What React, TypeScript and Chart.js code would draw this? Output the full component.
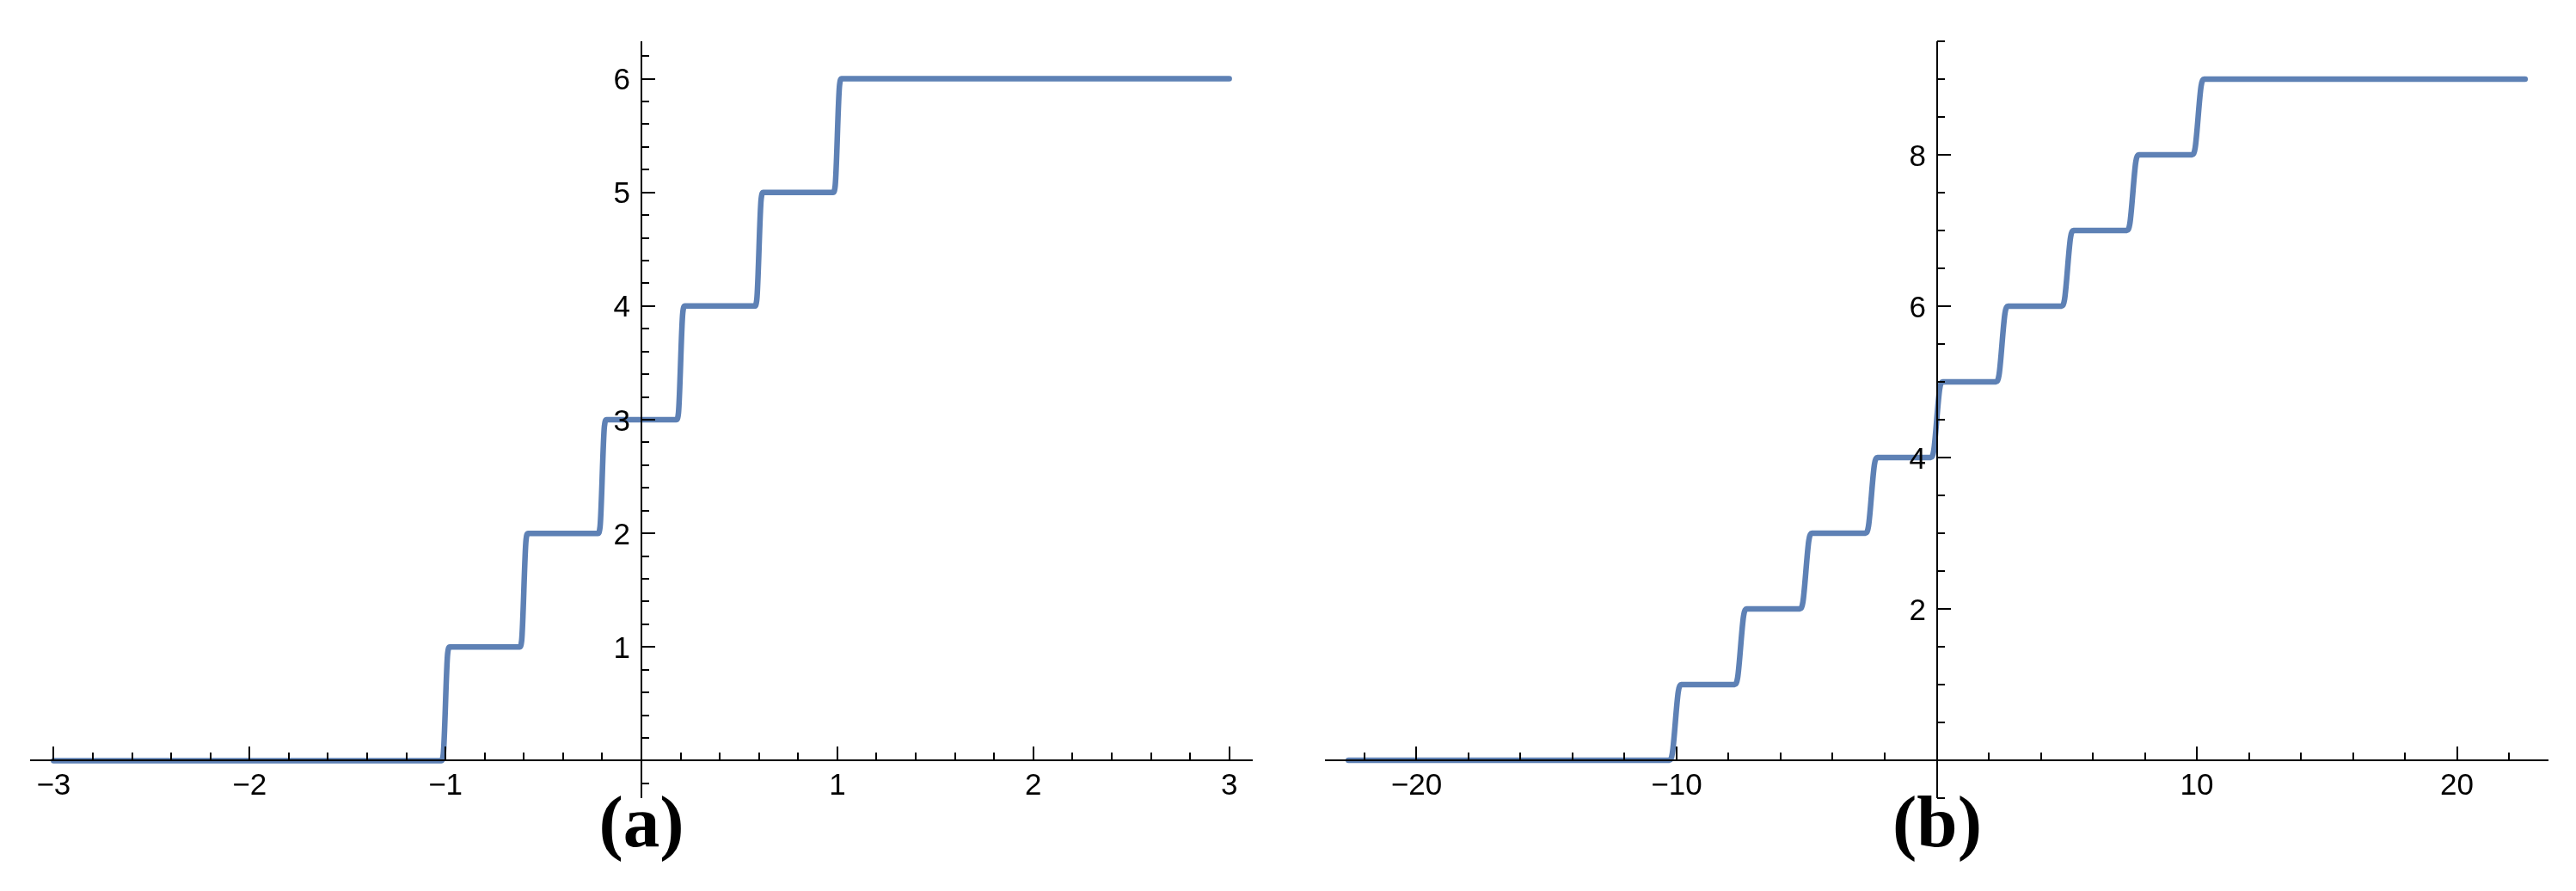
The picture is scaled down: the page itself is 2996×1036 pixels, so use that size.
import React, { useEffect, useRef } from "react";
import { Chart, registerables } from "chart.js";

Chart.register(...registerables);

// ---------- Panel (a) data ----------
const A_X = [
  -3,
  -1.022, -1.011, -0.989, -0.978,
  -0.622, -0.611, -0.589, -0.578,
  -0.222, -0.211, -0.189, -0.178,
  0.178, 0.189, 0.211, 0.222,
  0.578, 0.589, 0.611, 0.622,
  0.978, 0.989, 1.011, 1.022,
  3,
];
const A_Y = [
  0,
  0, 0.06, 0.94, 1,
  1, 1.06, 1.94, 2,
  2, 2.06, 2.94, 3,
  3, 3.06, 3.94, 4,
  4, 4.06, 4.94, 5,
  5, 5.06, 5.94, 6,
  6,
];
const A_X_TICKS = [-3, -2, -1, 1, 2, 3];
const A_X_LABELS = ["−3", "−2", "−1", "1", "2", "3"];
const A_Y_TICKS = [1, 2, 3, 4, 5, 6];
const A_Y_LABELS = ["1", "2", "3", "4", "5", "6"];
const A_CAPTION = "(a)";

// ---------- Panel (b) data ----------
const B_X = [
  -22.62,
  -10.28, -10.165, -9.935, -9.82,
  -7.77, -7.655, -7.425, -7.31,
  -5.26, -5.145, -4.915, -4.8,
  -2.74, -2.625, -2.395, -2.28,
  -0.23, -0.115, 0.115, 0.23,
  2.28, 2.395, 2.625, 2.74,
  4.8, 4.915, 5.145, 5.26,
  7.31, 7.425, 7.655, 7.77,
  9.82, 9.935, 10.165, 10.28,
  22.62,
];
const B_Y = [
  0,
  0, 0.09, 0.91, 1,
  1, 1.09, 1.91, 2,
  2, 2.09, 2.91, 3,
  3, 3.09, 3.91, 4,
  4, 4.09, 4.91, 5,
  5, 5.09, 5.91, 6,
  6, 6.09, 6.91, 7,
  7, 7.09, 7.91, 8,
  8, 8.09, 8.91, 9,
  9,
];
const B_X_TICKS = [-20, -10, 10, 20];
const B_X_LABELS = ["−20", "−10", "10", "20"];
const B_Y_TICKS = [2, 4, 6, 8];
const B_Y_LABELS = ["2", "4", "6", "8"];
const B_CAPTION = "(b)";

const LINE_COLOR = "#5E81B5";
const TICK_FONT = '35px "Liberation Sans", Arial, sans-serif';
const CAPTION_FONT = 'bold 85px "Liberation Serif", "Times New Roman", serif';

type PanelProps = {
  left: number;
  xs: number[];
  ys: number[];
  xRange: [number, number];
  yRange: [number, number];
  xTicks: number[];
  xLabels: string[];
  yTicks: number[];
  yLabels: string[];
  xMinorStep: number;
  yMinorStep: number;
  caption: string;
  padding: { left: number; right: number; top: number; bottom: number };
};

function minorValues(min: number, max: number, step: number): number[] {
  const out: number[] = [];
  const k0 = Math.ceil(min / step - 1e-9);
  const k1 = Math.floor(max / step + 1e-9);
  for (let k = k0; k <= k1; k++) {
    if (k === 0) continue;
    out.push(+(k * step).toFixed(6));
  }
  return out;
}

function Panel(props: PanelProps) {
  const ref = useRef<HTMLCanvasElement | null>(null);

  useEffect(() => {
    const canvas = ref.current;
    if (!canvas) return;

    const axesPlugin = {
      id: "mmaAxes",
      afterDatasetsDraw(chart: any) {
        const ctx = chart.ctx as CanvasRenderingContext2D;
        const xs = chart.scales.x;
        const ys = chart.scales.y;
        const area = chart.chartArea;
        const x0 = Math.round(xs.getPixelForValue(0));
        const y0 = Math.round(ys.getPixelForValue(0));
        const MAJOR = 16;
        const MINOR = 9;
        ctx.save();
        ctx.strokeStyle = "#000";
        ctx.fillStyle = "#000";
        ctx.lineWidth = 2;
        ctx.lineCap = "butt";

        // axis lines
        ctx.beginPath();
        ctx.moveTo(area.left, y0);
        ctx.lineTo(area.right, y0);
        ctx.moveTo(x0, area.top);
        ctx.lineTo(x0, area.bottom);
        ctx.stroke();

        // x ticks (pointing up)
        const isMajor = (v: number, arr: number[]) => arr.some((m) => Math.abs(m - v) < 1e-6);
        ctx.beginPath();
        for (const v of minorValues(props.xRange[0], props.xRange[1], props.xMinorStep)) {
          const px = Math.round(xs.getPixelForValue(v));
          const len = isMajor(v, props.xTicks) ? MAJOR : MINOR;
          ctx.moveTo(px, y0);
          ctx.lineTo(px, y0 - len);
        }
        // y ticks (pointing right)
        for (const v of minorValues(props.yRange[0], props.yRange[1], props.yMinorStep)) {
          const py = Math.round(ys.getPixelForValue(v));
          const len = isMajor(v, props.yTicks) ? MAJOR : MINOR;
          ctx.moveTo(x0, py);
          ctx.lineTo(x0 + len, py);
        }
        ctx.stroke();

        // tick labels
        ctx.font = TICK_FONT;
        ctx.textAlign = "center";
        ctx.textBaseline = "alphabetic";
        props.xTicks.forEach((v, i) => {
          const px = xs.getPixelForValue(v);
          ctx.fillText(props.xLabels[i], px, y0 + 40);
        });
        ctx.textAlign = "right";
        props.yTicks.forEach((v, i) => {
          const py = ys.getPixelForValue(v);
          ctx.fillText(props.yLabels[i], x0 - 13, py + 12.5);
        });

        // caption
        ctx.font = CAPTION_FONT;
        ctx.textAlign = "center";
        ctx.fillText(props.caption, x0, 984);
        ctx.restore();
      },
    };

    const chart = new Chart(canvas, {
      type: "line",
      data: {
        datasets: [
          {
            data: props.xs.map((x, i) => ({ x, y: props.ys[i] })),
            borderColor: LINE_COLOR,
            borderWidth: 6.5,
            borderCapStyle: "round",
            borderJoinStyle: "round",
            cubicInterpolationMode: "monotone",
            pointRadius: 0,
            fill: false,
          },
        ],
      },
      options: {
        animation: false,
        responsive: false,
        devicePixelRatio: 1,
        layout: { padding: props.padding },
        plugins: {
          legend: { display: false },
          tooltip: { enabled: false },
          title: { display: false },
        },
        scales: {
          x: { type: "linear", min: props.xRange[0], max: props.xRange[1], display: false },
          y: { type: "linear", min: props.yRange[0], max: props.yRange[1], display: false },
        },
      },
      plugins: [axesPlugin],
    } as any);

    return () => chart.destroy();
  }, []);

  return (
    <canvas
      ref={ref}
      width={1498}
      height={1036}
      style={{ position: "absolute", left: props.left, top: 0, width: 1498, height: 1036 }}
    />
  );
}

export default function App() {
  return (
    <div
      style={{
        position: "fixed",
        left: 0,
        top: 0,
        width: 2996,
        height: 1036,
        background: "#ffffff",
        overflow: "hidden",
      }}
    >
      <Panel
        left={0}
        xs={A_X}
        ys={A_Y}
        xRange={[-3.12, 3.12]}
        yRange={[-0.33, 6.33]}
        xTicks={A_X_TICKS}
        xLabels={A_X_LABELS}
        yTicks={A_Y_TICKS}
        yLabels={A_Y_LABELS}
        xMinorStep={0.2}
        yMinorStep={0.2}
        caption={A_CAPTION}
        padding={{ left: 35, right: 41, top: 48, bottom: 108 }}
      />
      <Panel
        left={1498}
        xs={B_X}
        ys={B_Y}
        xRange={[-23.52, 23.52]}
        yRange={[-0.5, 9.5]}
        xTicks={B_X_TICKS}
        xLabels={B_X_LABELS}
        yTicks={B_Y_TICKS}
        yLabels={B_Y_LABELS}
        xMinorStep={2}
        yMinorStep={0.5}
        caption={B_CAPTION}
        padding={{ left: 43, right: 32, top: 48, bottom: 108 }}
      />
    </div>
  );
}
